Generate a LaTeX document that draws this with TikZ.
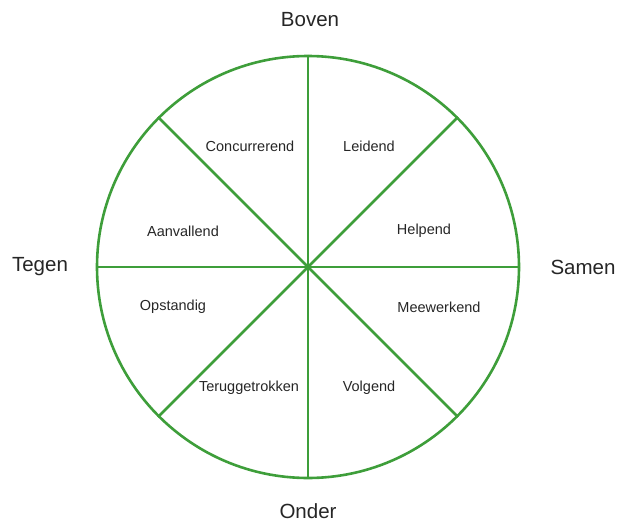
\documentclass[tikz,border=0pt]{standalone}
\usepackage{fontspec}
\setmainfont{Liberation Sans}
\definecolor{wheelgreen}{RGB}{62,158,58}
\begin{document}
\begin{tikzpicture}[x=1pt,y=-1pt,
  wheel/.style={draw=wheelgreen,line width=2.6pt},
  spoke/.style={draw=wheelgreen,line width=2.6pt},
  dir/.style={font=\fontsize{20.5}{24}\selectfont,text=black!85},
  sect/.style={font=\fontsize{14.5}{17}\selectfont,text=black!85}]
\useasboundingbox (0,0) rectangle (619,522);
\coordinate (c) at (308,267);
\node[circle,minimum size=422pt,inner sep=0pt,wheel] (w) at (c) {};
\foreach \a in {0,45,...,135}{
  \draw[spoke] (w.\a) -- (w.\a+180);
}
\node[dir] (boven) at (310,20) {Boven};
\node[dir] (onder) at (308,511) {Onder};
\node[dir] (tegen) at (40,267) {Tegen};
\node[dir] (samen) at (583,267) {Samen};
\node[sect] (conc) at (250,146) {Concurrerend};
\node[sect] (leid) at (369,146) {Leidend};
\node[sect] (help) at (424,231) {Helpend};
\node[sect] (aanv) at (183,231) {Aanvallend};
\node[sect] (opst) at (173,307) {Opstandig};
\node[sect] (meew) at (439,307) {Meewerkend};
\node[sect] (terug) at (249,388) {Teruggetrokken};
\node[sect] (volg) at (369,388) {Volgend};
\end{tikzpicture}
\end{document}
